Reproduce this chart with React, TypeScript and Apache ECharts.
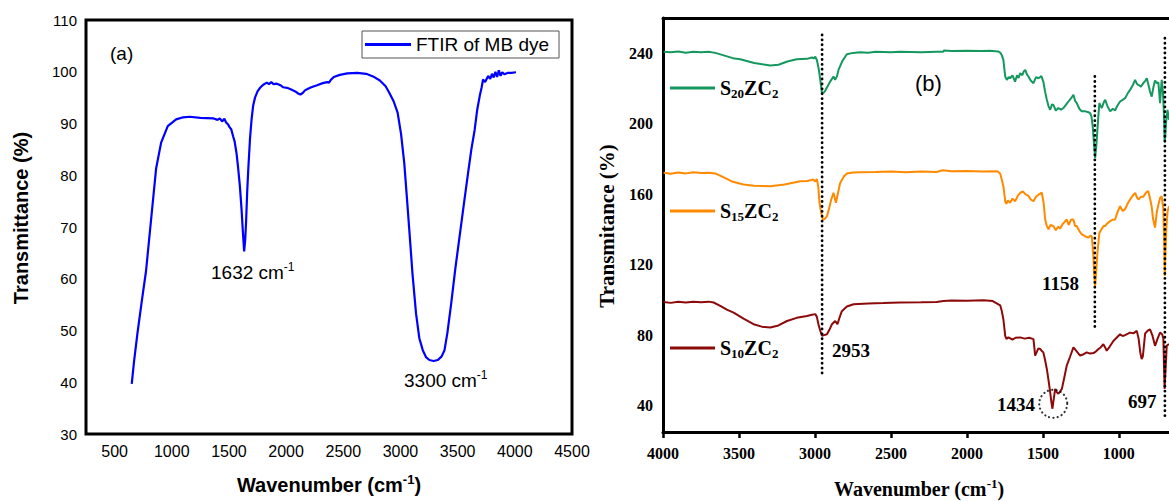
import React, { useEffect, useRef } from 'react';
import * as echarts from 'echarts';

const SANS = "'Liberation Sans', Arial, sans-serif";
const SERIF = "'Liberation Serif', 'Times New Roman', serif";

// ---------- Panel (a): FTIR of MB dye ----------
const mbWavenumber = [650, 670, 700, 740, 775, 819, 863, 907, 965, 1038, 1100, 1156, 1250, 1361, 1400, 1420, 1440, 1460, 1475, 1493, 1505, 1520, 1537, 1550, 1566, 1580, 1596, 1610, 1622, 1633, 1642, 1650, 1660, 1669, 1684, 1698, 1712, 1728, 1750, 1772, 1800, 1831, 1850, 1870, 1890, 1919, 1950, 1975, 2007, 2040, 2080, 2105, 2124, 2145, 2165, 2183, 2220, 2271, 2320, 2359, 2375, 2390, 2417, 2470, 2535, 2622, 2700, 2760, 2820, 2870, 2901, 2940, 2975, 3005, 3033, 3055, 3077, 3105, 3136, 3165, 3195, 3225, 3253, 3290, 3327, 3360, 3385, 3410, 3444, 3480, 3517, 3555, 3591, 3620, 3649, 3670, 3693, 3710, 3722, 3740, 3767, 3785, 3800, 3815, 3830, 3845, 3860, 3875, 3890, 3910, 3940, 3970, 4010];
const mbTransmittance = [39.7, 44, 49.5, 56, 61.5, 71.4, 81.3, 86.3, 89.5, 90.8, 91.2, 91.3, 91.1, 91.0, 90.7, 91.0, 90.4, 90.9, 90.2, 89.8, 89.3, 88.9, 87.5, 86.5, 84.3, 81.5, 77.8, 73.5, 69.0, 65.3, 67.5, 71.0, 77.0, 81.1, 87.0, 90.8, 93.5, 95.0, 96.2, 96.9, 97.5, 97.9, 97.6, 98.0, 97.6, 97.7, 97.4, 97.0, 96.9, 96.6, 96.2, 95.8, 95.6, 95.9, 96.4, 96.6, 97.0, 97.4, 97.8, 98.0, 97.9, 98.4, 99.0, 99.4, 99.7, 99.8, 99.6, 99.1, 98.3, 97.2, 96.0, 94.3, 92.1, 88.0, 82.4, 76.0, 69.5, 61.0, 53.3, 48.5, 46.2, 44.8, 44.3, 44.1, 44.3, 45.0, 46.2, 49.5, 55.3, 62.0, 68.2, 74.5, 80.4, 85.0, 88.8, 92.5, 95.3, 97.0, 98.5, 98.0, 99.2, 98.6, 99.6, 98.9, 100.0, 99.0, 100.3, 99.2, 99.9, 99.5, 99.8, 99.8, 99.9];
const aXTicks = [500, 1000, 1500, 2000, 2500, 3000, 3500, 4000, 4500];

// ---------- Panel (b): S20ZC2 / S15ZC2 / S10ZC2 ----------
const s20Wavenumber = [3996, 3950, 3900, 3850, 3800, 3750, 3700, 3656, 3600, 3540, 3492, 3400, 3294, 3240, 3182, 3120, 3053, 3020, 3009, 2998, 2987, 2975, 2965, 2954, 2940, 2932, 2915, 2900, 2878, 2867, 2855, 2845, 2820, 2790, 2750, 2702, 2650, 2600, 2500, 2440, 2300, 2200, 2156, 2150, 2100, 2000, 1900, 1850, 1794, 1781, 1770, 1760, 1752, 1748, 1737, 1725, 1716, 1700, 1683, 1670, 1660, 1649, 1635, 1625, 1616, 1605, 1595, 1580, 1562, 1545, 1529, 1510, 1497, 1485, 1474, 1463, 1452, 1440, 1431, 1415, 1398, 1380, 1365, 1350, 1332, 1310, 1299, 1288, 1277, 1260, 1244, 1220, 1200, 1189, 1180, 1172, 1163, 1156, 1148, 1141, 1134, 1128, 1120, 1112, 1100, 1090, 1075, 1057, 1040, 1025, 1008, 992, 975, 959, 940, 926, 910, 893, 880, 871, 855, 839, 825, 816, 805, 795, 784, 773, 762, 750, 740, 729, 718, 710, 703, 699, 695, 690, 680, 670];
const s20Transmittance = [240.9, 240.5, 241.0, 240.3, 240.8, 240.6, 240.9, 240.2, 238.8, 237.2, 236.6, 234.5, 233.0, 233.5, 235.3, 236.6, 236.8, 237.6, 237.0, 238.0, 236.0, 231.0, 224.9, 217.4, 217.8, 218.8, 221.5, 223.9, 226.8, 224.9, 227.0, 230.5, 235.5, 239.4, 240.2, 240.6, 240.3, 240.8, 240.5, 240.9, 240.6, 240.9, 240.8, 241.6, 241.3, 241.4, 241.2, 241.4, 241.0, 240.4, 238.8, 236.2, 230.0, 226.8, 224.9, 226.5, 225.8, 227.5, 223.9, 227.5, 226.0, 228.7, 227.5, 229.8, 230.5, 228.0, 226.8, 224.5, 223.0, 226.5, 225.8, 227.0, 223.9, 218.0, 213.6, 210.0, 207.9, 211.0, 210.7, 207.5, 208.9, 208.0, 208.9, 210.5, 212.6, 215.0, 216.4, 213.0, 211.7, 208.5, 207.0, 207.0, 206.5, 206.0, 204.0, 198.5, 188.0, 180.6, 188.0, 196.6, 205.5, 211.7, 210.0, 208.9, 212.0, 213.6, 210.0, 207.0, 208.5, 207.5, 210.5, 212.6, 213.5, 214.5, 217.5, 219.2, 221.5, 224.9, 222.5, 222.1, 221.0, 223.0, 224.5, 225.8, 222.0, 218.3, 215.4, 220.5, 224.5, 223.0, 223.5, 211.7, 224.9, 218.0, 205.0, 190.0, 192.0, 200.0, 207.9, 202.2];

const s15Wavenumber = [3996, 3950, 3900, 3850, 3800, 3750, 3700, 3656, 3600, 3540, 3470, 3400, 3294, 3200, 3097, 3050, 3009, 2998, 2987, 2978, 2970, 2958, 2948, 2935, 2921, 2905, 2893, 2878, 2862, 2850, 2834, 2810, 2790, 2750, 2700, 2600, 2500, 2400, 2300, 2200, 2160, 2100, 2000, 1900, 1800, 1781, 1770, 1760, 1752, 1748, 1740, 1730, 1716, 1700, 1683, 1665, 1649, 1630, 1616, 1595, 1580, 1562, 1545, 1525, 1507, 1495, 1485, 1474, 1463, 1450, 1431, 1415, 1400, 1387, 1370, 1355, 1343, 1330, 1315, 1299, 1288, 1277, 1260, 1244, 1220, 1200, 1188, 1178, 1168, 1162, 1156, 1150, 1141, 1128, 1115, 1100, 1090, 1075, 1057, 1040, 1025, 1010, 992, 975, 959, 940, 926, 910, 893, 880, 871, 855, 839, 820, 806, 795, 784, 775, 762, 750, 740, 728, 718, 708, 702, 698, 694, 688, 680, 670];
const s15Transmittance = [172.1, 171.6, 172.3, 171.8, 172.4, 172.0, 172.2, 171.8, 169.5, 167.0, 165.5, 164.8, 164.5, 165.5, 167.3, 167.5, 168.3, 167.2, 168.5, 164.0, 155.1, 149.0, 145.6, 146.0, 147.5, 152.5, 157.0, 160.8, 155.1, 160.0, 166.4, 170.0, 171.7, 172.3, 172.4, 172.6, 172.9, 172.5, 172.8, 172.6, 173.6, 173.0, 173.2, 172.9, 173.0, 171.7, 168.0, 164.5, 159.0, 156.0, 154.5, 156.5, 155.1, 157.5, 156.0, 159.0, 160.8, 161.5, 160.0, 159.0, 157.0, 156.0, 158.5, 160.0, 160.8, 155.0, 145.6, 142.0, 140.0, 142.5, 141.9, 139.5, 141.5, 140.5, 143.0, 144.5, 145.6, 142.5, 145.5, 145.6, 142.0, 141.9, 139.0, 137.2, 136.0, 135.3, 136.5, 136.2, 125.0, 114.0, 107.9, 115.0, 126.8, 138.1, 140.0, 142.0, 141.9, 143.5, 144.7, 145.5, 145.6, 149.5, 153.2, 150.5, 151.5, 155.0, 157.0, 159.0, 160.8, 158.0, 157.0, 158.5, 158.5, 161.0, 161.7, 157.5, 153.0, 146.0, 141.0, 150.0, 154.0, 158.0, 158.8, 152.0, 135.0, 113.6, 125.0, 140.0, 150.0, 153.2];

const s10Wavenumber = [3996, 3950, 3900, 3850, 3800, 3750, 3700, 3667, 3620, 3580, 3535, 3470, 3404, 3350, 3294, 3240, 3184, 3120, 3053, 3020, 2998, 2988, 2977, 2965, 2954, 2940, 2921, 2905, 2888, 2867, 2852, 2838, 2823, 2790, 2746, 2650, 2550, 2439, 2300, 2200, 2154, 2100, 2000, 1891, 1830, 1781, 1770, 1760, 1752, 1748, 1740, 1727, 1700, 1680, 1649, 1620, 1590, 1562, 1555, 1551, 1540, 1530, 1518, 1507, 1497, 1486, 1474, 1463, 1452, 1444, 1437, 1430, 1419, 1408, 1398, 1387, 1375, 1360, 1343, 1320, 1299, 1280, 1255, 1235, 1211, 1190, 1167, 1150, 1134, 1120, 1102, 1090, 1080, 1060, 1036, 1015, 992, 975, 959, 940, 926, 905, 882, 870, 859, 850, 842, 827, 810, 795, 780, 762, 745, 729, 715, 707, 702, 699, 694, 685, 670];
const s10Transmittance = [98.8, 98.3, 98.9, 98.5, 99.0, 98.6, 99.0, 98.5, 96.5, 94.5, 92.8, 89.3, 86.2, 84.8, 84.3, 85.5, 88.0, 89.8, 90.9, 91.5, 91.9, 90.5, 86.2, 82.5, 79.6, 80.0, 80.5, 83.0, 86.2, 88.0, 86.2, 90.0, 93.6, 96.2, 97.5, 98.0, 98.2, 98.5, 98.6, 98.8, 99.4, 99.6, 99.5, 99.8, 99.3, 96.9, 93.5, 89.0, 83.0, 79.6, 77.8, 78.7, 77.5, 78.5, 78.7, 78.0, 78.5, 77.7, 72.0, 68.4, 70.5, 72.5, 72.1, 71.0, 70.2, 66.0, 60.8, 54.5, 47.6, 42.0, 38.2, 43.0, 49.5, 47.5, 46.7, 48.0, 49.5, 55.5, 62.7, 68.0, 73.0, 71.0, 68.4, 69.0, 70.2, 69.5, 69.8, 70.8, 72.1, 73.0, 74.8, 73.0, 71.1, 73.5, 76.7, 78.5, 80.5, 79.5, 80.0, 80.8, 81.4, 81.0, 82.4, 78.0, 70.2, 66.4, 68.0, 81.0, 82.5, 83.3, 80.0, 73.9, 78.0, 81.4, 80.5, 78.0, 60.0, 49.5, 58.0, 73.9, 75.0];

const bXTicks = [4000, 3500, 3000, 2500, 2000, 1500, 1000];
const bYTicks = [40, 80, 120, 160, 200, 240];

// dotted peak guide lines (wavenumber, top value, bottom value)
const peakWavenumbers = [2953, 1158, 697];
const peakTop = [250.4, 226.8, 248.5];
const peakBottom = [56.1, 84.4, 33.5];
// circled peak (1434 cm-1 on S10ZC2)
const circledPeak = [1432, 41];

const zip = (xs: number[], ys: number[]) => xs.map((x, i) => [x, ys[i]]);
const plain = (v: number) => String(v);

const GREEN = '#15985e';
const ORANGE = '#ff8a00';
const DARKRED = '#8c0a0a';
const BLUE = '#0000ff';

const subLegendRich = {
  m: { fontSize: 20, fontWeight: 'bold', fontFamily: SERIF, color: '#000', lineHeight: 24 },
  s: { fontSize: 13, fontWeight: 'bold', fontFamily: SERIF, color: '#000', lineHeight: 4, verticalAlign: 'bottom' },
};
const subName = (name: string) => {
  const m = name.match(/^S(\d+)ZC(\d+)$/);
  if (!m) return name;
  return `{m|S}{s|${m[1]}}{m|ZC}{s|${m[2]}}`;
};

const sansRich = {
  n: { fontSize: 19, fontFamily: SANS, fill: '#000', lineHeight: 22 },
  sup: { fontSize: 12, fontFamily: SANS, fill: '#000', lineHeight: 8, verticalAlign: 'top' },
};
const sansBoldRich = {
  n: { fontSize: 20, fontWeight: 'bold', fontFamily: SANS, fill: '#000', lineHeight: 24 },
  sup: { fontSize: 13, fontWeight: 'bold', fontFamily: SANS, fill: '#000', lineHeight: 8, verticalAlign: 'top' },
};
const serifBoldRich = {
  n: { fontSize: 20, fontWeight: 'bold', fontFamily: SERIF, fill: '#000', lineHeight: 24 },
  sup: { fontSize: 13, fontWeight: 'bold', fontFamily: SERIF, fill: '#000', lineHeight: 8, verticalAlign: 'top' },
};

function txt(x: number, y: number, text: string, style: any, extra: any = {}) {
  return { type: 'text', x, y, silent: true, ...extra, style: { text, fill: '#000', ...style } };
}

function buildOption(): any {
  const bSeries = (name: string, wn: number[], val: number[], color: string) => ({
    type: 'line',
    name,
    xAxisIndex: 1,
    yAxisIndex: 1,
    data: zip(wn, val),
    symbol: 'none',
    showSymbol: false,
    silent: true,
    lineStyle: { color, width: 2 },
    itemStyle: { color },
  });

  const peakSeries = peakWavenumbers.map((wn, i) => ({
    type: 'line',
    xAxisIndex: 1,
    yAxisIndex: 1,
    data: [[wn, peakTop[i]], [wn, peakBottom[i]]],
    symbol: 'none',
    silent: true,
    z: 5,
    lineStyle: { color: '#000', width: 2.8, type: [0.1, 4.8], cap: 'round' },
  }));

  const legendB = (name: string, top: number) => ({
    data: [name],
    left: 670,
    top,
    bottom: 'auto',
    padding: 0,
    itemWidth: 45,
    itemHeight: 3,
    icon: 'rect',
    selectedMode: false,
    formatter: subName,
    textStyle: { rich: subLegendRich },
  });

  return {
    animation: false,
    backgroundColor: '#fff',
    grid: [
      { left: 86, top: 20, width: 486, height: 414, show: true, borderColor: '#000', borderWidth: 3, backgroundColor: 'transparent' },
      { left: 663, top: 18, right: 0, height: 414 },
    ],
    xAxis: [
      {
        gridIndex: 0, type: 'value', min: 250, max: 4500,
        axisLine: { show: false }, axisTick: { show: false }, splitLine: { show: false },
        axisLabel: { customValues: aXTicks, formatter: plain, color: '#000', fontSize: 16, fontFamily: SANS, margin: 9 },
      },
      {
        gridIndex: 1, type: 'value', inverse: true, min: 670, max: 4000,
        axisLine: { show: true, onZero: false, lineStyle: { color: '#000', width: 3 } },
        axisTick: { show: true, customValues: bXTicks, length: 6, lineStyle: { color: '#000', width: 2.5 } },
        splitLine: { show: false },
        axisLabel: { customValues: bXTicks, formatter: plain, color: '#000', fontSize: 16, fontWeight: 'bold', fontFamily: SERIF, margin: 13 },
      },
      {
        gridIndex: 1, type: 'value', inverse: true, min: 670, max: 4000, position: 'top',
        axisLine: { show: true, onZero: false, lineStyle: { color: '#000', width: 3 } },
        axisTick: { show: false }, axisLabel: { show: false }, splitLine: { show: false },
      },
    ],
    yAxis: [
      {
        gridIndex: 0, type: 'value', min: 30, max: 110, interval: 10,
        axisLine: { show: false }, axisTick: { show: false }, splitLine: { show: false },
        axisLabel: { formatter: plain, color: '#000', fontSize: 15, fontFamily: SANS, margin: 9 },
      },
      {
        gridIndex: 1, type: 'value', min: 25, max: 260,
        axisLine: { show: true, onZero: false, lineStyle: { color: '#000', width: 3 } },
        axisTick: { show: false }, splitLine: { show: false },
        axisLabel: { customValues: bYTicks, formatter: plain, color: '#000', fontSize: 16, fontWeight: 'bold', fontFamily: SERIF, margin: 10 },
      },
    ],
    legend: [
      {
        data: ['FTIR of MB dye'], left: 362, top: 31, bottom: 'auto', padding: [4, 10, 4, 3],
        borderColor: '#555', borderWidth: 1, itemWidth: 46, itemHeight: 3, icon: 'rect', selectedMode: false,
        textStyle: { color: '#000', fontSize: 19, fontFamily: SANS },
      },
      legendB('S20ZC2', 78),
      legendB('S15ZC2', 201),
      legendB('S10ZC2', 338),
    ],
    series: [
      {
        type: 'line', name: 'FTIR of MB dye', xAxisIndex: 0, yAxisIndex: 0,
        data: zip(mbWavenumber, mbTransmittance), symbol: 'none', showSymbol: false, silent: true,
        lineStyle: { color: BLUE, width: 2.2 }, itemStyle: { color: BLUE },
      },
      bSeries('S20ZC2', s20Wavenumber, s20Transmittance, GREEN),
      bSeries('S15ZC2', s15Wavenumber, s15Transmittance, ORANGE),
      bSeries('S10ZC2', s10Wavenumber, s10Transmittance, DARKRED),
      ...peakSeries,
      {
        type: 'scatter', xAxisIndex: 1, yAxisIndex: 1, data: [circledPeak], symbol: 'circle', symbolSize: 28,
        silent: true, z: 6,
        itemStyle: { color: 'rgba(0,0,0,0)', borderColor: '#000', borderWidth: 2.2, borderType: [0.1, 4.2], borderCap: 'round' },
      },
    ],
    graphic: [
      // panel (a)
      txt(110, 53, '(a)', { fontSize: 19, fontFamily: SANS, align: 'left', verticalAlign: 'middle' }),
      txt(211, 272, '{n|1632 cm}{sup|-1}', { rich: sansRich, align: 'left', verticalAlign: 'middle' }),
      txt(404, 380, '{n|3300 cm}{sup|-1}', { rich: sansRich, align: 'left', verticalAlign: 'middle' }),
      txt(21, 218, 'Transmittance (%)', { fontSize: 20, fontWeight: 'bold', fontFamily: SANS, align: 'center', verticalAlign: 'middle' }, { rotation: Math.PI / 2 }),
      txt(329, 485, '{n|Wavenumber (cm}{sup|-1}{n|)}', { rich: sansBoldRich, align: 'center', verticalAlign: 'middle' }),
      // panel (b)
      txt(915, 83, '(b)', { fontSize: 22, fontFamily: SANS, align: 'left', verticalAlign: 'middle' }),
      txt(832, 350, '2953', { fontSize: 19, fontWeight: 'bold', fontFamily: SERIF, align: 'left', verticalAlign: 'middle' }),
      txt(1042, 283, '1158', { fontSize: 19, fontWeight: 'bold', fontFamily: SERIF, align: 'left', verticalAlign: 'middle' }),
      txt(997, 404, '1434', { fontSize: 19, fontWeight: 'bold', fontFamily: SERIF, align: 'left', verticalAlign: 'middle' }),
      txt(1128, 401, '697', { fontSize: 19, fontWeight: 'bold', fontFamily: SERIF, align: 'left', verticalAlign: 'middle' }),
      txt(607, 226, 'Transmitance (%)', { fontSize: 21, fontWeight: 'bold', fontFamily: SERIF, align: 'center', verticalAlign: 'middle' }, { rotation: Math.PI / 2 }),
      txt(919, 489, '{n|Wavenumber (cm}{sup|-1}{n|)}', { rich: serifBoldRich, align: 'center', verticalAlign: 'middle' }),
    ],
  };
}

export default function App() {
  const ref = useRef<HTMLDivElement>(null);
  useEffect(() => {
    if (!ref.current) return;
    const chart = echarts.init(ref.current, null, { renderer: 'svg' });
    chart.setOption(buildOption());
    return () => chart.dispose();
  }, []);
  return (
    <div
      ref={ref}
      style={{ position: 'fixed', left: 0, top: 0, width: 1169, height: 501, background: '#fff' }}
    />
  );
}
